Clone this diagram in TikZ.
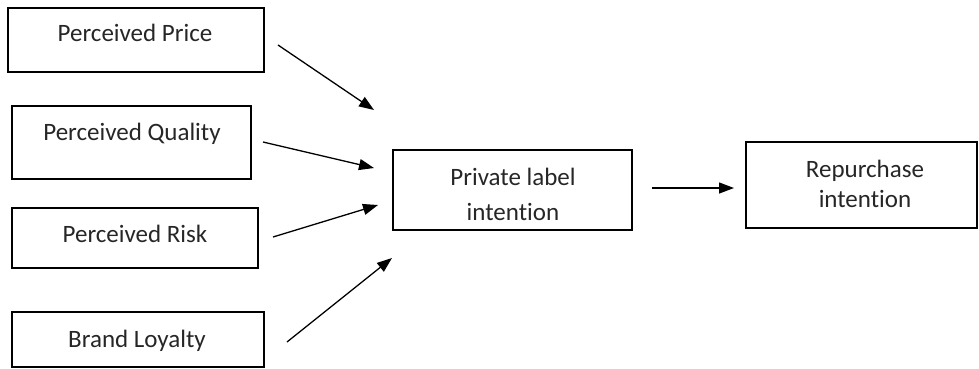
\documentclass[tikz,border=0pt]{standalone}
\usepackage{fontspec}
\setmainfont[Ligatures=NoCommon]{Carlito}
\usetikzlibrary{arrows.meta}
\begin{document}
\begin{tikzpicture}[x=1pt,y=-1pt,
  box/.style={draw, line width=1.3pt, inner sep=0pt},
  lbl/.style={font=\fontsize{25}{30}\selectfont, inner sep=0pt, anchor=base, text=black!85},
  arr/.style={line width=1.3pt, -{Triangle[length=15pt,width=11pt]}}]
\useasboundingbox (0,0) rectangle (979,368);
% boxes
\node[box, minimum width=256pt, minimum height=64pt] (price) at (136,40) {};
\node[box, minimum width=239pt, minimum height=73pt] (quality) at (131.5,142.5) {};
\node[box, minimum width=246pt, minimum height=60pt] (risk) at (135,238) {};
\node[box, minimum width=252pt, minimum height=55pt] (loyalty) at (138,339.5) {};
\node[box, minimum width=239pt, minimum height=80pt] (private) at (512.5,190) {};
\node[box, minimum width=231pt, minimum height=86pt] (repurchase) at (861.5,185) {};
% labels
\node[lbl] (tprice) at (135,41) {Perceived Price};
\node[lbl] (tquality) at (132,140) {Perceived Quality};
\node[lbl] (trisk) at (135,242) {Perceived Risk};
\node[lbl] (tloyalty) at (137,347) {Brand Loyalty};
\node[lbl] (tpriv1) at (513,185) {Private label};
\node[lbl] (tpriv2) at (513,220) {intention};
\node[lbl] (trep1) at (865,177) {Repurchase};
\node[lbl] (trep2) at (865,207) {intention};
% arrow ends
\coordinate (s1) at (278,45);  \coordinate (e1) at (374,110);
\coordinate (s2) at (263,142); \coordinate (e2) at (374,168);
\coordinate (s3) at (273,237); \coordinate (e3) at (378,205);
\coordinate (s4) at (287,342); \coordinate (e4) at (392,258);
\coordinate (s5) at (652,188); \coordinate (e5) at (734,188);
\draw[arr] (s1) -- (e1);
\draw[arr] (s2) -- (e2);
\draw[arr] (s3) -- (e3);
\draw[arr] (s4) -- (e4);
\draw[arr] (s5) -- (e5);
\end{tikzpicture}
\end{document}
